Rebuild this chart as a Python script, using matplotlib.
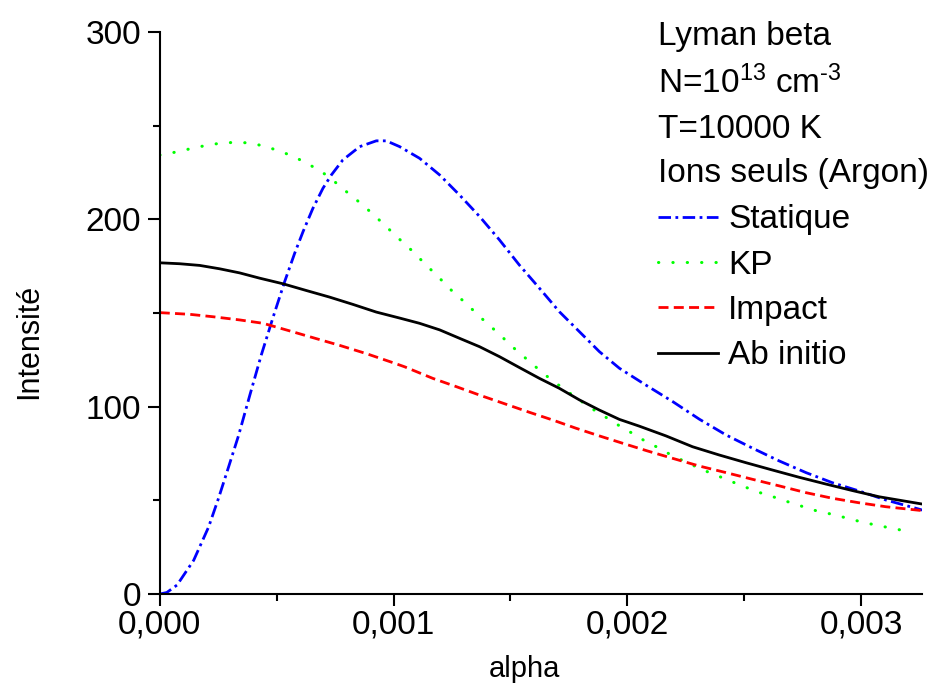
import matplotlib
matplotlib.use("Agg")
import matplotlib.pyplot as plt
from matplotlib.ticker import MultipleLocator, FixedLocator, FixedFormatter

plt.rcParams['font.family'] = ['Liberation Sans', 'DejaVu Sans']
plt.rcParams['mathtext.fontset'] = 'custom'
plt.rcParams['mathtext.rm'] = 'Liberation Sans'
plt.rcParams['mathtext.it'] = 'Liberation Sans'

# Statique (blue dash-dot)
alpha_stat = [0, 0.00003, 0.000074, 0.000145, 0.000209, 0.000251, 0.000294, 0.000337,
              0.000386, 0.000434, 0.000484, 0.000534, 0.000577, 0.000613, 0.000655,
              0.000698, 0.000734, 0.000783, 0.000855, 0.000926, 0.000969, 0.001026,
              0.001111, 0.001197, 0.001282, 0.001368, 0.001453, 0.001538, 0.001624,
              0.001709, 0.001795, 0.00188, 0.001966, 0.002073, 0.002194, 0.002308,
              0.002422, 0.002536, 0.00265, 0.002764, 0.002877, 0.002991, 0.003105, 0.003262]
int_stat = [0, 0.8, 4.8, 18, 35.8, 51, 67.7, 84.6,
            106.5, 127.5, 147.5, 166.7, 181.9, 193.5, 205.9,
            216.6, 223.7, 231.7, 238.8, 241.9, 241.9, 238.8,
            232.6, 223.7, 213, 201.5, 189, 175.6, 163.2,
            150.7, 140, 129.4, 120.5, 112, 102.7, 93.3,
            84.9, 77.8, 71, 64.8, 59.4, 55, 50.2, 44.8]

# KP (green dotted)
alpha_kp = [0, 0.000064, 0.000128, 0.000192, 0.000256, 0.00032, 0.000385, 0.000449,
            0.000506, 0.00057, 0.000627, 0.000684, 0.000734, 0.000783, 0.000833,
            0.000883, 0.000933, 0.000983, 0.001026, 0.001075, 0.001118, 0.001168,
            0.001211, 0.00126, 0.00131, 0.001353, 0.001402, 0.001453, 0.001496,
            0.001545, 0.001595, 0.001645, 0.001695, 0.001745, 0.001801, 0.001858,
            0.001915, 0.001972, 0.002028, 0.00208, 0.002137, 0.002194, 0.002258,
            0.002315, 0.002379, 0.002436, 0.0025, 0.002557, 0.002621, 0.002685,
            0.002742, 0.002806, 0.00287, 0.002934, 0.002991, 0.003055, 0.003119, 0.003184]
int_kp = [234.3, 235.8, 237.6, 239.3, 240.6, 241.1, 240.8, 239,
          236.7, 233.7, 230, 226.1, 221.6, 216.3, 211.3,
          206, 200.3, 194.4, 189.3, 183.7, 178.3, 172.1,
          166.8, 160.5, 155.2, 149.9, 144.2, 138.7, 133.3,
          128, 122.6, 117.3, 112.5, 108, 103, 98.2,
          93.8, 89.3, 85.3, 81.3, 77.8, 73.7, 70.1,
          66.6, 63.5, 60.5, 57.3, 54.5, 52, 49.3,
          47, 44.5, 42.7, 40.7, 38.8, 37, 35.4, 33.8]

# Impact (red dashed)
alpha_imp = [0, 0.000128, 0.000228, 0.000342, 0.000442, 0.000557, 0.00067, 0.00077,
             0.000884, 0.000997, 0.001047, 0.001168, 0.001268, 0.001374, 0.001481,
             0.001581, 0.00168, 0.00178, 0.00188, 0.001979, 0.002085, 0.002194,
             0.002308, 0.002422, 0.002536, 0.00265, 0.002764, 0.002877, 0.002991,
             0.003105, 0.003262]
int_imp = [150.2, 149.3, 148, 146.3, 144.5, 140.4, 136.3, 132.7,
           128.3, 123.5, 121.3, 115.1, 110.7, 105.9, 101.3,
           97, 92.9, 88.5, 84.4, 80.5, 76.4, 72.4,
           68.3, 64.8, 61.2, 57.7, 54.1, 51.1, 48.7,
           46.6, 44.5]

# Ab initio (black solid)
alpha_abi = [0, 0.000085, 0.000171, 0.000256, 0.000342, 0.000427, 0.000527, 0.000627,
             0.000726, 0.000826, 0.000926, 0.001026, 0.001111, 0.001197, 0.001282,
             0.001368, 0.001453, 0.001538, 0.001624, 0.001709, 0.001795, 0.00188,
             0.001966, 0.002051, 0.002165, 0.002279, 0.002393, 0.002507, 0.00262,
             0.002735, 0.002849, 0.002963, 0.003077, 0.003262]
int_abi = [176.8, 176.3, 175.4, 173.6, 171.4, 168.6, 165.6, 162,
           158.5, 154.6, 150.5, 147.3, 144.5, 141, 136.5,
           132, 126.7, 120.9, 115.1, 109.8, 103.6, 98.2,
           93.2, 89.6, 84.4, 78.6, 74.2, 70.1, 66.2,
           62.3, 58.7, 55.2, 51.9, 48]

x_ticks = [0, 0.001, 0.002, 0.003]
x_ticklabels = ['0,000', '0,001', '0,002', '0,003']
y_ticks = [0, 100, 200, 300]

header_lines = ['Lyman beta', r'N=10$^{13}$ cm$^{\text{-}3}$', 'T=10000 K', 'Ions seuls (Argon)']

fig = plt.figure(figsize=(9.51, 6.88), dpi=100)
ax = fig.add_axes([0.168, 0.1366, 0.8015, 0.8169])

ax.plot(alpha_stat, int_stat, color='#0000ff', lw=2.0,
        linestyle=(0, (4.5, 1.6, 1.0, 1.6)), label='Statique')
ax.plot(alpha_kp, int_kp, color='#00ff00', lw=2.2,
        linestyle=(0, (0.1, 4.6)), dash_capstyle='round', label='KP')
ax.plot(alpha_imp, int_imp, color='#ff0000', lw=2.0,
        linestyle=(0, (3.6, 1.9)), label='Impact')
ax.plot(alpha_abi, int_abi, color='black', lw=2.0, label='Ab initio')

ax.set_xlim(0, 0.00326)
ax.set_ylim(0, 300)
ax.xaxis.set_major_locator(FixedLocator(x_ticks))
ax.xaxis.set_major_formatter(FixedFormatter(x_ticklabels))
ax.xaxis.set_minor_locator(MultipleLocator(0.0005))
ax.yaxis.set_major_locator(FixedLocator(y_ticks))
ax.yaxis.set_minor_locator(MultipleLocator(50))

for side in ['top', 'right']:
    ax.spines[side].set_visible(False)
for side in ['left', 'bottom']:
    ax.spines[side].set_linewidth(1.5)
ax.tick_params(which='major', direction='out', length=8.5, width=1.5, labelsize=24)
ax.tick_params(which='minor', direction='out', length=4.8, width=1.5)
ax.tick_params(axis='y', which='major', pad=5)
ax.tick_params(axis='x', which='major', pad=3)

ax.set_xlabel('alpha', fontsize=21)
ax.set_ylabel('Intensité', fontsize=22)
ax.xaxis.set_label_coords(0.479, -0.108)
ax.yaxis.set_label_coords(-0.152, 0.45)

ys = [0.9346, 0.8648, 0.7994, 0.7355]
for txt, yy in zip(header_lines, ys):
    fig.text(0.692, yy, txt, fontsize=24, va='baseline', ha='left')

ax.legend(loc='upper left', bbox_to_anchor=(0.692, 0.703), bbox_transform=fig.transFigure,
          frameon=False, fontsize=24, borderpad=0, borderaxespad=0,
          handlelength=1.8, handletextpad=0.3, labelspacing=0.43)

fig.savefig('out.png', dpi=100)
